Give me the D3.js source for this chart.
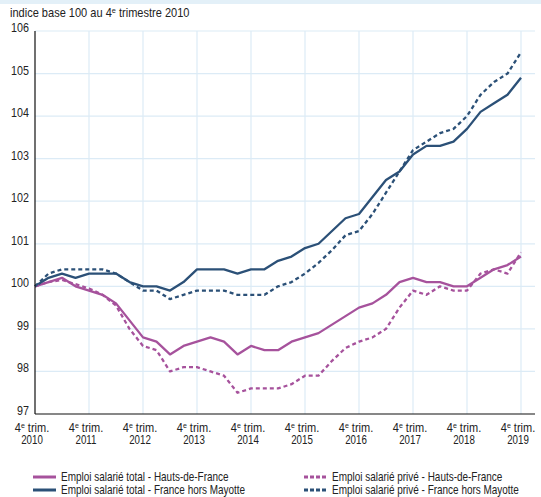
<!DOCTYPE html>
<html>
<head>
<meta charset="utf-8">
<script src="https://cdn.jsdelivr.net/npm/d3@7"></script>
<style>
  body { margin: 0; background: #fff; }
  svg { display: block; font-family: "Liberation Sans", Arial, Helvetica, sans-serif; }
</style>
</head>
<body>
<svg id="chart" width="541" height="497"></svg>
<script>
// quarters from 4e trim. 2010 to 4e trim. 2019
const quarters = d3.range(37);
const yearLabels = ["2010", "2011", "2012", "2013", "2014", "2015", "2016", "2017", "2018", "2019"];
const yTicks = [97, 98, 99, 100, 101, 102, 103, 104, 105, 106];

const totalHdf = [100, 100.1, 100.2, 100.0, 99.9, 99.8, 99.6, 99.2, 98.8, 98.7, 98.4, 98.6, 98.7,
  98.8, 98.7, 98.4, 98.6, 98.5, 98.5, 98.7, 98.8, 98.9, 99.1, 99.3, 99.5, 99.6, 99.8, 100.1, 100.2,
  100.1, 100.1, 100.0, 100.0, 100.2, 100.4, 100.5, 100.7];
const priveHdf = [100, 100.1, 100.15, 100.05, 99.95, 99.8, 99.55, 99.0, 98.6, 98.5, 98.0, 98.1, 98.1,
  98.0, 97.9, 97.5, 97.6, 97.6, 97.6, 97.7, 97.9, 97.9, 98.25, 98.55, 98.7, 98.8, 99.0, 99.5, 99.9,
  99.8, 100.0, 99.9, 99.9, 100.3, 100.4, 100.3, 100.8];
const totalFr = [100, 100.2, 100.3, 100.2, 100.3, 100.3, 100.3, 100.1, 100.0, 100.0, 99.9, 100.1, 100.4,
  100.4, 100.4, 100.3, 100.4, 100.4, 100.6, 100.7, 100.9, 101.0, 101.3, 101.6, 101.7, 102.1, 102.5, 102.7, 103.1,
  103.3, 103.3, 103.4, 103.7, 104.1, 104.3, 104.5, 104.9];
const priveFr = [100, 100.3, 100.4, 100.4, 100.4, 100.4, 100.3, 100.1, 99.9, 99.9, 99.7, 99.8, 99.9,
  99.9, 99.9, 99.8, 99.8, 99.8, 100.0, 100.1, 100.3, 100.55, 100.85, 101.2, 101.3, 101.7, 102.2, 102.7, 103.2,
  103.4, 103.6, 103.7, 104.0, 104.5, 104.8, 105.0, 105.5];

const series = [
  { name: "Emploi salarié total - Hauts-de-France", values: totalHdf, color: "#a6529c", dash: null },
  { name: "Emploi salarié total - France hors Mayotte", values: totalFr, color: "#2b5077", dash: null },
  { name: "Emploi salarié privé - Hauts-de-France", values: priveHdf, color: "#a6529c", dash: "4,3" },
  { name: "Emploi salarié privé - France hors Mayotte", values: priveFr, color: "#2b5077", dash: "4,3" }
];

const svg = d3.select("#chart");
const x = d3.scaleLinear().domain([0, 36]).range([35, 521]);
const y = d3.scaleLinear().domain([97, 106]).range([414, 31]);
const right = 535;

svg.append("rect").attr("x", 0).attr("y", 0).attr("width", 541).attr("height", 4).attr("fill", "#e3f0f8");

// titre (texte un peu resserré, police étroite dans l'original)
svg.append("text")
  .attr("transform", "translate(10,17) scale(0.92,1)")
  .attr("font-size", 12).attr("fill", "#222")
  .call((t) => {
    t.append("tspan").text("indice base 100 au 4");
    t.append("tspan").attr("font-size", 8).attr("dy", -4).text("e");
    t.append("tspan").attr("dy", 4).text(" trimestre 2010");
  });

// grid
const grid = svg.append("g").attr("stroke", "#dcebf6").attr("stroke-width", 1.2);
grid.selectAll("line.h")
  .data(yTicks.slice(1))
  .join("line")
  .attr("x1", 35).attr("x2", right)
  .attr("y1", (d) => y(d)).attr("y2", (d) => y(d));
grid.selectAll("line.v")
  .data(yearLabels.slice(1))
  .join("line")
  .attr("x1", (d, i) => x((i + 1) * 4)).attr("x2", (d, i) => x((i + 1) * 4))
  .attr("y1", 31).attr("y2", 414);

// y labels
svg.append("g")
  .attr("font-size", 12.5).attr("fill", "#222").attr("text-anchor", "end")
  .selectAll("text")
  .data(yTicks)
  .join("text")
  .attr("transform", (d) => `translate(29,${y(d) + 1}) scale(0.86,1)`)
  .text((d) => d);

// x labels
const xl = svg.append("g")
  .attr("font-size", 12.5).attr("fill", "#222").attr("text-anchor", "middle")
  .selectAll("g")
  .data(yearLabels)
  .join("g")
  .attr("transform", (d, i) => `translate(${x(i * 4) - 3},0)`);
xl.append("text").attr("transform", "translate(0,432) scale(0.88,1)")
  .call((t) => {
    t.append("tspan").text("4");
    t.append("tspan").attr("font-size", 8).attr("dy", -4).text("e");
    t.append("tspan").attr("dy", 4).text(" trim.");
  });
xl.append("text").attr("transform", "translate(0,444) scale(0.78,1)").text((d) => d);

// lines
const line = d3.line().x((d, i) => x(quarters[i])).y((d) => y(d));
svg.append("g")
  .selectAll("path")
  .data(series)
  .join("path")
  .attr("d", (d) => line(d.values))
  .attr("fill", "none")
  .attr("stroke", (d) => d.color)
  .attr("stroke-width", 2.3)
  .attr("stroke-dasharray", (d) => d.dash)
  .attr("stroke-linejoin", "round");

// axes
svg.append("line").attr("x1", 35).attr("x2", 35).attr("y1", 31).attr("y2", 414).attr("stroke", "#111").attr("stroke-width", 1.2);
svg.append("line").attr("x1", 35).attr("x2", right).attr("y1", 414).attr("y2", 414).attr("stroke", "#111").attr("stroke-width", 1.2);

// legend
const leg = svg.append("g")
  .attr("font-size", 12).attr("fill", "#222")
  .selectAll("g")
  .data(series)
  .join("g")
  .attr("transform", (d, i) => `translate(${i < 2 ? 33 : 304},${477 + (i % 2) * 13})`);
leg.append("line")
  .attr("x1", 0).attr("x2", 23).attr("y1", 0).attr("y2", 0)
  .attr("stroke", (d) => d.color).attr("stroke-width", 3)
  .attr("stroke-dasharray", (d) => (d.dash ? "4,2" : null));
leg.append("text").attr("transform", "translate(28,4) scale(0.83,1)").text((d) => d.name);
</script>
</body>
</html>
